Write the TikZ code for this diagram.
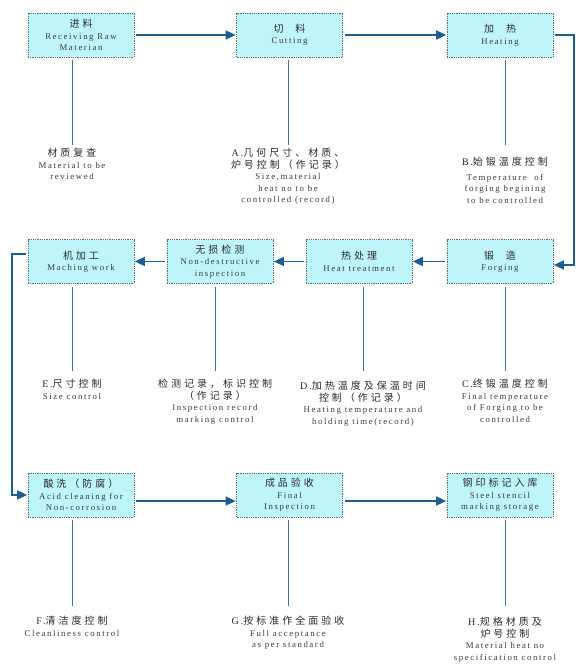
\documentclass[tikz,border=0pt]{standalone}
\usepackage{fontspec}
\setmainfont{Liberation Serif}
\newfontfamily\cjk[LetterSpace=30]{Noto Sans CJK SC}
\newfontfamily\en[LetterSpace=18]{Liberation Serif}
\usetikzlibrary{arrows.meta}
\definecolor{boxfill}{HTML}{BEF5FA}
\definecolor{boxline}{HTML}{4F6F78}
\definecolor{arrowc}{HTML}{1A5E93}
\definecolor{dropc}{HTML}{3F6F9C}
\definecolor{txt}{HTML}{2A2A2A}
\definecolor{entxt}{HTML}{3A3A3A}
\newcommand{\zh}[1]{{\cjk\fontsize{10}{12}\selectfont #1}}
\newcommand{\enl}[1]{{\en\fontsize{8.8}{11}\selectfont\color{entxt}#1}}
\newcommand{\zhp}[2]{{\en\fontsize{10}{12}\selectfont #1}\zh{#2}}
\begin{document}
\begin{tikzpicture}[x=1pt,y=-1pt,
 box/.style={draw=boxline, dash pattern=on 0.9pt off 0.9pt, line width=0.7pt, fill=boxfill,
   minimum width=106pt, minimum height=44pt, inner sep=1pt, align=center,
   font=\fontsize{8.8}{11.5}\selectfont, text=txt},
 lab/.style={anchor=north, align=center, inner sep=0pt, font=\fontsize{8.8}{11.5}\selectfont, text=txt},
 conn/.style={draw=arrowc, line width=1.6pt, -{Triangle[length=10pt,width=9pt]}, shorten <=2pt, shorten >=0.5pt},
 drop/.style={draw=dropc, line width=0.8pt}]
\useasboundingbox[fill=white] (0,0) rectangle (581,668);

% boxes
\node[box] (b1) at (81,35) {\zh{进料}\\\enl{Receiving Raw}\\\enl{Materian}};
\node[box] (b2) at (289.5,35) {\zh{切\hspace{1.2em}料}\\\enl{Cutting}};
\node[box] (b3) at (500,35) {\zh{加\hspace{1.2em}热}\\\enl{Heating}};
\node[box] (b4) at (500,261.5) {\zh{锻\hspace{1.2em}造}\\\enl{Forging}};
\node[box] (b5) at (359,261.5) {\zh{热处理}\\\enl{Heat treatment}};
\node[box] (b6) at (220,261.5) {\zh{无损检测}\\\enl{Non-destructive}\\\enl{inspection}};
\node[box] (b7) at (81,261.5) {\zh{机加工}\\\enl{Maching work}};
\node[box] (b8) at (81,495) {\zh{酸洗（防腐）}\\\enl{Acid cleaning for}\\\enl{Non-corrosion}};
\node[box] (b9) at (289.5,495) {\zh{成品验收}\\\enl{Final}\\\enl{Inspection}};
\node[box] (b10) at (500,495) {\zh{钢印标记入库}\\\enl{Steel stencil}\\\enl{marking storage}};

% labels
\node[lab] (l1) at (72,148) {\zh{材质复查}\\\enl{Material to be}\\\enl{reviewed}};
\node[lab] (l2) at (288,148) {\zhp{A.}{几何尺寸、材质、}\\\zh{炉号控制（作记录）}\\\enl{Size,material}\\\enl{heat no to be}\\\enl{controlled (record)}};
\node[lab] (l3) at (505,157) {\zhp{B.}{始锻温度控制}\\[3pt]\enl{Temperature\ \ of}\\\enl{forging begining}\\\enl{to be controlled}};
\node[lab] (l7) at (72,379) {\zhp{E.}{尺寸控制}\\\enl{Size control}};
\node[lab] (l6) at (215,379) {\zh{检测记录，标识控制}\\\zh{（作记录）}\\\enl{Inspection record}\\\enl{marking control}};
\node[lab] (l5) at (363,381) {\zhp{D.}{加热温度及保温时间}\\\zh{控制（作记录）}\\\enl{Heating temperature and}\\\enl{holding time(record)}};
\node[lab] (l4) at (505,379) {\zhp{C.}{终锻温度控制}\\\enl{Final temperature}\\\enl{of Forging to be}\\\enl{controlled}};
\node[lab] (l8) at (72,616) {\zhp{F.}{清洁度控制}\\\enl{Cleanliness control}};
\node[lab] (l9) at (288,616) {\zhp{G.}{按标准作全面验收}\\\enl{Full acceptance}\\\enl{as per standard}};
\node[lab] (l10) at (505,617) {\zhp{H.}{规格材质及}\\\zh{炉号控制}\\\enl{Material heat no}\\\enl{specification control}};

% drop lines
\draw[drop] ([yshift=-3pt]b1.south -| l1.north) -- ([yshift=3pt]l1.north);
\draw[drop] ([yshift=-3pt]b2.south -| l2.north) -- ([yshift=3pt]l2.north);
\draw[drop] ([yshift=-3pt]b3.south -| l3.north) -- ([yshift=12pt]l3.north);
\draw[drop] ([yshift=-3pt]b4.south -| l4.north) -- ([yshift=8pt]l4.north);
\draw[drop] ([yshift=-3pt]b5.south -| l5.north) -- ([yshift=10pt]l5.north);
\draw[drop] ([yshift=-3pt]b6.south -| l6.north) -- ([yshift=8pt]l6.north);
\draw[drop] ([yshift=-3pt]b7.south -| l7.north) -- ([yshift=8pt]l7.north);
\draw[drop] ([yshift=-3pt]b8.south -| l8.north) -- ([yshift=10pt]l8.north);
\draw[drop] ([yshift=-3pt]b9.south -| l9.north) -- ([yshift=10pt]l9.north);
\draw[drop] ([yshift=-3pt]b10.south -| l10.north) -- ([yshift=11pt]l10.north);

% connectors
\coordinate (r1) at (574,35);
\coordinate (r2) at (574,265);
\coordinate (q1) at (12,254);
\coordinate (q2) at (12,495);
\draw[conn] (b1) -- (b2);
\draw[conn] (b2) -- (b3);
\draw[conn] (b3.east) -- (r1) -- (r2) -- (b4.east |- r2);
\draw[conn] (b4) -- (b5);
\draw[conn] (b5) -- (b6);
\draw[conn] (b6) -- (b7);
\draw[conn] (b7.west |- q1) -- (q1) -- (q2) -- (b8.west |- q2);
\draw[conn] ([yshift=-6pt]b8.east) -- ([yshift=-6pt]b9.west);
\draw[conn] ([yshift=-6pt]b9.east) -- ([yshift=-6pt]b10.west);
\end{tikzpicture}
\end{document}
